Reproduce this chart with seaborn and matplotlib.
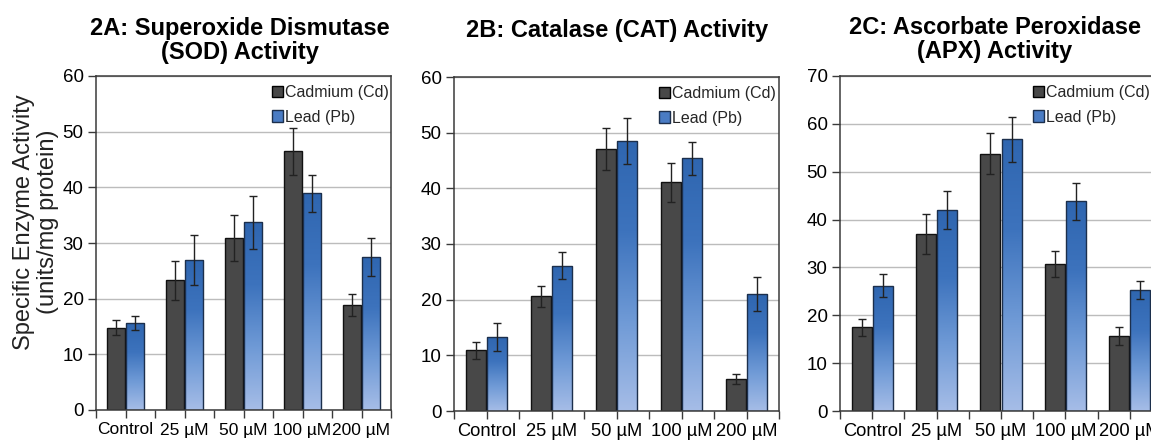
import numpy as np
import pandas as pd
import matplotlib
matplotlib.use("Agg")
import matplotlib.pyplot as plt
import seaborn as sns
from matplotlib.patches import Patch
from matplotlib.colors import LinearSegmentedColormap

# ---------------- data ----------------
concentrations = ["Control", "25 µM", "50 µM", "100 µM", "200 µM"]
metals = ["Cadmium (Cd)", "Lead (Pb)"]

sod_cd = [14.8, 23.3, 30.9, 46.5, 18.9]
sod_pb = [15.6, 26.9, 33.7, 38.9, 27.5]
sod_cd_err = [1.4, 3.5, 4.2, 4.2, 2.0]
sod_pb_err = [1.2, 4.5, 4.8, 3.3, 3.4]

cat_cd = [10.9, 20.6, 47.1, 41.1, 5.7]
cat_pb = [13.3, 26.1, 48.5, 45.4, 21.0]
cat_cd_err = [1.5, 1.9, 3.8, 3.5, 0.9]
cat_pb_err = [2.5, 2.4, 4.2, 3.0, 3.0]

apx_cd = [17.5, 37.0, 53.8, 30.7, 15.6]
apx_pb = [26.2, 42.0, 56.8, 43.8, 25.2]
apx_cd_err = [1.8, 4.2, 4.3, 2.7, 1.9]
apx_pb_err = [2.4, 3.9, 4.7, 3.8, 1.9]

titles = ["2A: Superoxide Dismutase\n(SOD) Activity",
          "2B: Catalase (CAT) Activity",
          "2C: Ascorbate Peroxidase\n(APX) Activity"]
y_maxes = [60, 60, 70]
y_label = "Specific Enzyme Activity\n(units/mg protein)"

# ---------------- style ----------------
sns.set_theme(style="white")
plt.rcParams["font.family"] = ["Liberation Sans", "DejaVu Sans"]

W, H = 1151, 441
fig = plt.figure(figsize=(W / 100, H / 100), dpi=100)

cd_color = "#484848"
cd_edge = "#111111"
pb_edge = "#1c2f4c"
pb_mid = "#4a7cc4"
pb_cmap = LinearSegmentedColormap.from_list(
    "pb", ["#a6bde7", "#6f9ad6", "#3d73bd", "#2f66b0"])
spine_color = "#3a3a3a"


def px_axes(left, top, right, bottom):
    return fig.add_axes([left / W, 1 - bottom / H, (right - left) / W, (bottom - top) / H])


def panel(ax, cd, pb, cd_err, pb_err, ymax, xlabelsize, leg_dx_px):
    df = pd.DataFrame({
        "Concentration": concentrations * 2,
        "Activity": cd + pb,
        "Metal": [metals[0]] * len(cd) + [metals[1]] * len(pb),
    })
    sns.barplot(data=df, x="Concentration", y="Activity", hue="Metal",
                order=concentrations, hue_order=metals,
                palette=[cd_color, pb_mid], width=0.66, gap=0.06,
                errorbar=None, linewidth=1.0, legend=False, ax=ax, zorder=2)
    patches = list(ax.patches)
    n = len(concentrations)
    cd_patches = sorted(patches[:n], key=lambda p: p.get_x())
    pb_patches = sorted(patches[n:2 * n], key=lambda p: p.get_x())
    for p in cd_patches:
        p.set_edgecolor(cd_edge)
        p.set_facecolor(cd_color)
    grad = np.linspace(0, 1, 256).reshape(-1, 1)
    for p in pb_patches:
        p.set_edgecolor(pb_edge)
        x0, y0 = p.get_x(), p.get_y()
        w, h = p.get_width(), p.get_height()
        im = ax.imshow(grad, cmap=pb_cmap, extent=[x0, x0 + w, y0, y0 + h],
                       origin="lower", aspect="auto", zorder=1.9,
                       interpolation="bilinear")
        im.set_clip_path(p)
        p.set_facecolor("none")

    for plist, errs in ((cd_patches, cd_err), (pb_patches, pb_err)):
        xs = [p.get_x() + p.get_width() / 2 for p in plist]
        ys = [p.get_height() for p in plist]
        ax.errorbar(xs, ys, yerr=errs, fmt="none", ecolor="#222222",
                    elinewidth=1.0, capsize=2.8, capthick=1.0, zorder=4)

    ax.set_xlim(-0.5, len(concentrations) - 0.5)
    ax.set_ylim(0, ymax)
    ax.set_yticks(np.arange(0, ymax + 1, 10))
    ax.set_xticks(range(len(concentrations)))
    ax.set_xticklabels(concentrations)
    ax.set_xticks(np.arange(-0.5, len(concentrations), 1.0), minor=True)
    ax.set_xlabel("")
    ax.set_ylabel("")
    ax.set_axisbelow(True)
    ax.yaxis.grid(True, color="#bcbcbc", linewidth=1.0)
    ax.xaxis.grid(False)
    for s in ax.spines.values():
        s.set_visible(True)
        s.set_color(spine_color)
        s.set_linewidth(1.1)
        s.set_zorder(6)
    ax.tick_params(axis="x", which="both", bottom=True, direction="out",
                   length=6, width=1.0, color=spine_color)
    ax.tick_params(axis="x", which="major", labelsize=xlabelsize, pad=3,
                   labelcolor="black")
    ax.tick_params(axis="y", which="major", left=True, direction="out",
                   length=6, width=1.0, color=spine_color, labelsize=13.5,
                   pad=3, labelcolor="black")
    ax.set_facecolor("white")

    bb = ax.get_position()
    ax_w_px = bb.width * W
    ax_h_px = bb.height * H
    handles = [Patch(facecolor=cd_color, edgecolor="black", linewidth=1.0),
               Patch(facecolor=pb_mid, edgecolor=pb_edge, linewidth=1.0)]
    leg = ax.legend(handles, metals, loc="upper right",
                    bbox_to_anchor=(1.0 + leg_dx_px / ax_w_px, 1.0 - 6 / ax_h_px),
                    fontsize=11.5,
                    handlelength=0.7, handleheight=0.7,
                    handletextpad=0.15, labelspacing=0.62,
                    borderpad=0.12, borderaxespad=0.05,
                    frameon=True, facecolor="white", edgecolor="none",
                    framealpha=1.0)
    leg.set_zorder(3.5)


axA = px_axes(96, 76, 391, 410)
axB = px_axes(454, 77, 779, 411)
axC = px_axes(840, 76, 1162, 411)

panel(axA, sod_cd, sod_pb, sod_cd_err, sod_pb_err, y_maxes[0], 12.5, 1)
panel(axB, cat_cd, cat_pb, cat_cd_err, cat_pb_err, y_maxes[1], 13.2, 0)
panel(axC, apx_cd, apx_pb, apx_cd_err, apx_pb_err, y_maxes[2], 13.2, -9)

title_x = [240, 617, 995]
title_top = [17, 19, 16]
for tx, ty, t in zip(title_x, title_top, titles):
    fig.text(tx / W, 1 - ty / H, t, ha="center", va="top", fontsize=17,
             fontweight="bold", linespacing=1.05, color="black")

fig.text(36 / W, 1 - 222 / H, y_label, rotation=90, ha="center",
         va="center", fontsize=17, linespacing=1.1, color="#222222")

fig.savefig("out.png", dpi=100, facecolor="white")
